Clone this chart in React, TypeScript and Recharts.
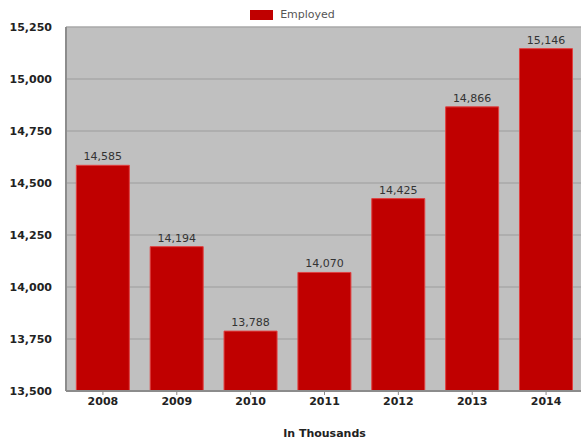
import React from 'react';
import { BarChart, Bar, XAxis, YAxis, CartesianGrid, Legend, LabelList } from 'recharts';

const years = ['2008', '2009', '2010', '2011', '2012', '2013', '2014'];
const employed = [14585, 14194, 13788, 14070, 14425, 14866, 15146];
const yTicks = [13500, 13750, 14000, 14250, 14500, 14750, 15000, 15250];

const data = years.map((y, i) => ({ year: y, Employed: employed[i] }));
const fmt = (v: number) => v.toLocaleString('en-US');
const FONT = 'Verdana, "DejaVu Sans", sans-serif';

const renderLegend = (props: any) => {
  const { payload } = props;
  return (
    <div style={{ display: 'flex', justifyContent: 'center', fontFamily: FONT, fontSize: 11, height: 21 }}>
      {(payload || []).map((p: any) => (
        <div key={p.value} style={{ display: 'flex', alignItems: 'center', marginLeft: 0 }}>
          <span style={{ display: 'inline-block', width: 23, height: 10, background: p.color, marginRight: 7 }} />
          <span style={{ color: '#555' }}>{p.value}</span>
        </div>
      ))}
    </div>
  );
};

export default function App() {
  return (
    <div style={{ position: 'absolute', left: 0, top: 0, background: '#fff' }}>
      <BarChart
        width={583}
        height={444}
        data={data}
        margin={{ top: 6, right: 0, bottom: 23, left: 0 }}
        barCategoryGap="14%"
      >
        <CartesianGrid vertical={false} stroke="#a8a8a8" strokeWidth={1.5} fill="#c0c0c0" />
        <XAxis
          dataKey="year"
          axisLine={{ stroke: '#8c8c8c', strokeWidth: 2 }}
          tickLine={{ stroke: '#8c8c8c' }}
          tickSize={4}
          interval={0}
          height={30}
          tick={{ fontFamily: FONT, fontSize: 11, fontWeight: 'bold', fill: '#222' }}
          label={{
            value: 'In Thousands',
            position: 'insideBottom',
            offset: -16,
            style: { fontFamily: FONT, fontSize: 11, fontWeight: 'bold', fill: '#222' },
          }}
        />
        <YAxis
          width={66}
          domain={[13500, 15250]}
          ticks={yTicks}
          tickFormatter={fmt}
          axisLine={{ stroke: '#8c8c8c', strokeWidth: 2 }}
          tickLine={false}
          tickMargin={8}
          tick={{ fontFamily: FONT, fontSize: 11, fontWeight: 'bold', fill: '#222' }}
        />
        <Legend
          verticalAlign="top"
          align="center"
          height={21}
          content={renderLegend}
          wrapperStyle={{ top: 4, left: 1 }}
        />
        <Bar dataKey="Employed" fill="#c00000" stroke="#e04040" strokeWidth={1} isAnimationActive={false}>
          <LabelList
            dataKey="Employed"
            position="top"
            formatter={(v: number) => fmt(v)}
            style={{ fontFamily: FONT, fontSize: 11, fill: '#333' }}
            offset={5}
          />
        </Bar>
      </BarChart>
    </div>
  );
}
